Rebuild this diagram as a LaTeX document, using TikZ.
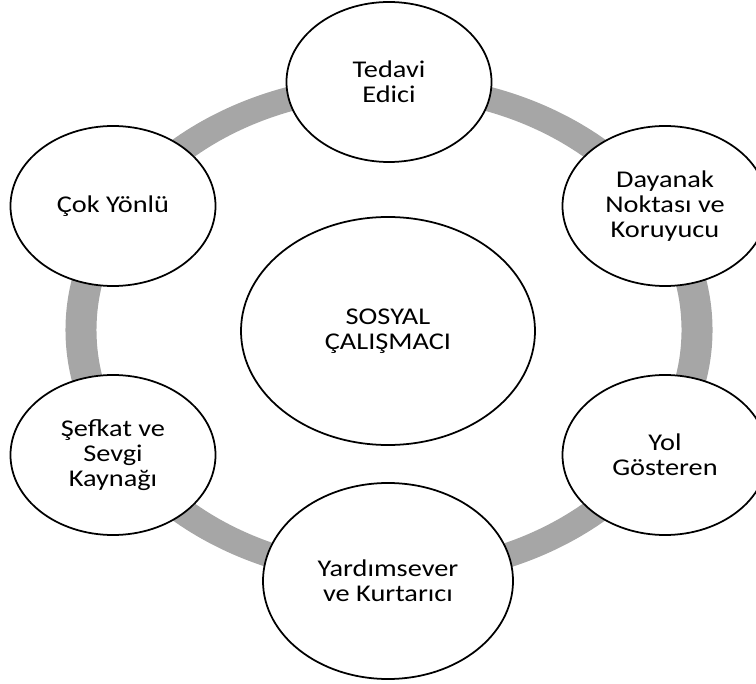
\documentclass[tikz,border=0pt]{standalone}
\usepackage{fontspec}
\setmainfont{Carlito}[FakeStretch=1.18]
\usetikzlibrary{shapes.geometric}
\definecolor{ringgray}{RGB}{166,166,166}
\tikzset{
	rol/.style={ellipse, draw=black, line width=1.5pt, fill=white, align=center,
		inner sep=0pt, font=\fontsize{20.5}{21.5}\selectfont},
	yan/.style={rol, minimum width=6.15cm, minimum height=4.8cm},
}
\begin{document}
\begin{tikzpicture}[x=0.03cm, y=-0.03cm]
	\useasboundingbox (0, 0) rectangle (756, 684);
	\clip (0, 0) rectangle (756, 684);

	% halka
	\fill[ringgray, even odd rule] (389, 330) ellipse [x radius=9.705cm, y radius=7.68cm]
		(389, 330) ellipse [x radius=8.775cm, y radius=6.96cm];

	\node[rol, minimum width=8.82cm, minimum height=6.84cm] (merkez) at (388, 331) {SOSYAL\\ÇALIŞMACI};

	\foreach \ad/\x/\y/\metin in {tedavi/389/82/{Tedavi\\Edici},
			cok/113/206/{Çok Yönlü},
			dayanak/665/206/{Dayanak\\Noktası ve\\Koruyucu},
			sefkat/113/455/{Şefkat ve\\Sevgi\\Kaynağı},
			yol/665/455/{Yol\\Gösteren}}
		\node[yan] (\ad) at (\x, \y) {\metin};

	\node[rol, minimum width=7.5cm, minimum height=5.88cm] (yardim) at (388, 581) {Yardımsever\\ve Kurtarıcı};
\end{tikzpicture}
\end{document}
